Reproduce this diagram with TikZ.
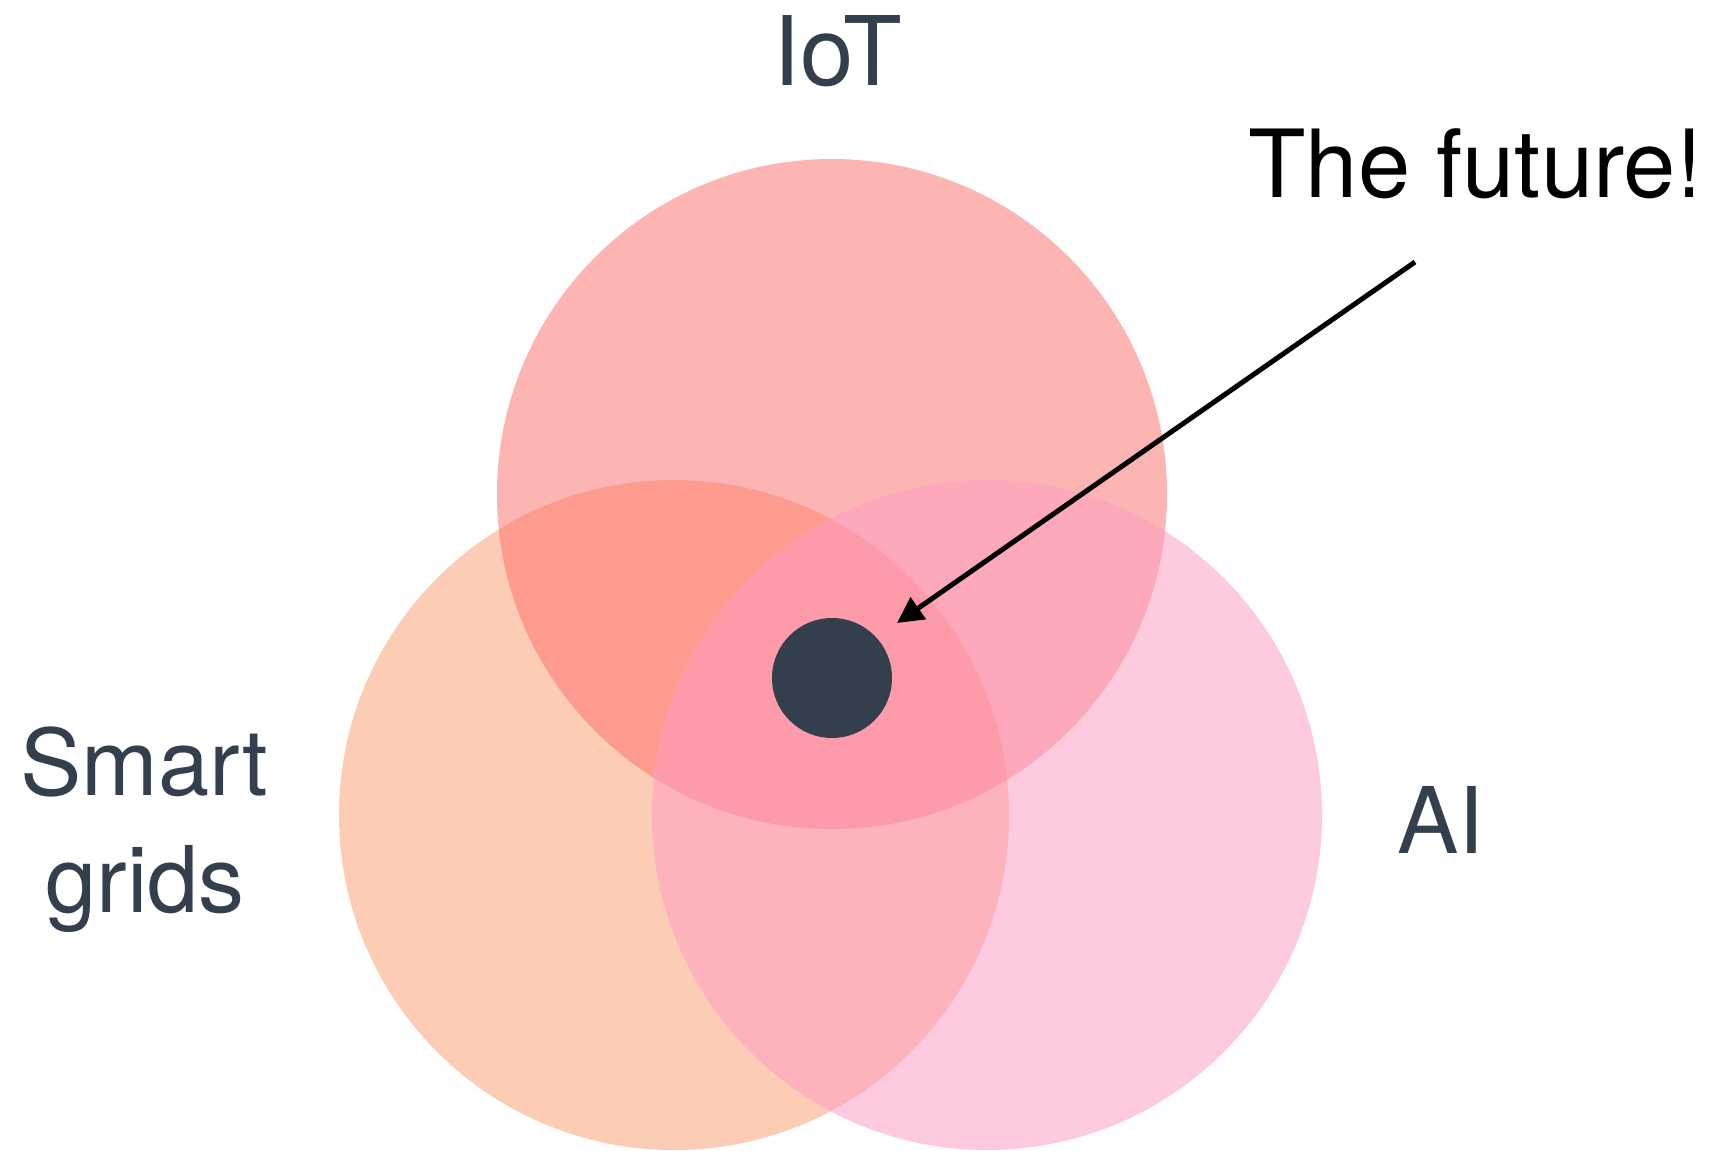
\documentclass[tikz,border=0pt]{standalone}
\usepackage{fontspec}
\setmainfont{TeX Gyre Heros}
\usetikzlibrary{arrows.meta}
\definecolor{sgcol}{HTML}{FDCCB5}
\definecolor{aicol}{HTML}{FDCAE0}
\definecolor{iotcol}{HTML}{FDB5B4}
\definecolor{sgiot}{HTML}{FD9B8F}
\definecolor{iotai}{HTML}{FEA8BC}
\definecolor{sgai}{HTML}{FEB3BC}
\definecolor{allcol}{HTML}{FD9BAA}
\definecolor{slate}{HTML}{343F4E}
\tikzset{
  label/.style={anchor=base west, inner sep=0pt, text=slate, font=\fontsize{46}{57.5}\selectfont},
  callout/.style={anchor=base west, inner sep=0pt, text=black, font=\fontsize{47}{58}\selectfont},
  pointer/.style={line width=2.5pt, -{Triangle[length=13pt,width=13pt]}},
}
\newcommand{\rr}{167.5pt}
\begin{document}
\begin{tikzpicture}[x=0.5pt,y=-0.5pt]
\useasboundingbox (0,0) rectangle (1719,1151);
\coordinate (ciot) at (832,494);
\coordinate (csg) at (674,815);
\coordinate (cai) at (987,815);
% base circles
\fill[sgcol] (csg) circle[radius=\rr];
\fill[aicol] (cai) circle[radius=\rr];
\fill[iotcol] (ciot) circle[radius=\rr];
% pairwise overlaps
\begin{scope}
  \clip (csg) circle[radius=\rr];
  \fill[sgiot] (ciot) circle[radius=\rr];
  \fill[sgai] (cai) circle[radius=\rr];
\end{scope}
\begin{scope}
  \clip (ciot) circle[radius=\rr];
  \fill[iotai] (cai) circle[radius=\rr];
\end{scope}
\begin{scope}
  \clip (csg) circle[radius=\rr];
  \clip (ciot) circle[radius=\rr];
  \fill[allcol] (cai) circle[radius=\rr];
\end{scope}
% centre dot
\node[circle, fill=slate, minimum size=60pt, inner sep=0pt] (dot) at (832,678) {};
% labels
\node[label, font=\fontsize{48}{57.5}\selectfont] (iot) at (773,85) {IoT};
\node[label] (sg) at (20,795) {Smart};
\node[label] (grids) at (45,912) {grids};
\node[label] (ai) at (1397,853) {AI};
\node[callout] (future) at (1248,197) {The future!};
% arrow
\coordinate (arrowstart) at (1415,262);
\coordinate (arrowtip) at (897,623);
\draw[pointer] (arrowstart) -- (arrowtip);
\end{tikzpicture}
\end{document}
